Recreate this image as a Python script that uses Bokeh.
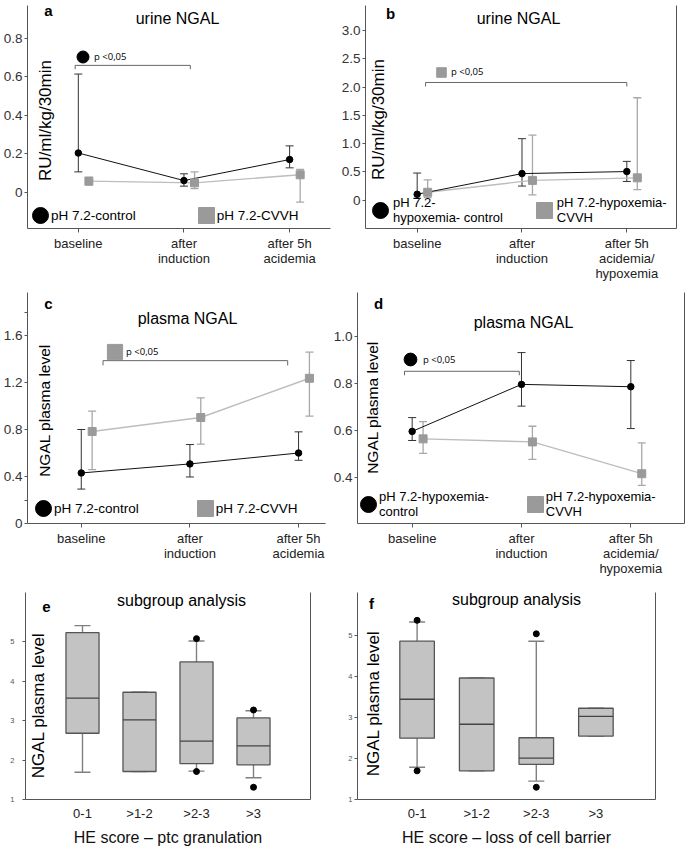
import math
from bokeh.plotting import figure
from bokeh.models import (ColumnDataSource, Whisker, TeeHead, Label, Legend, LegendItem,
                          FixedTicker, LinearAxis, Range1d)
from bokeh.layouts import column, row
from bokeh.embed import file_html
from bokeh.resources import INLINE
from bokeh.core.properties import value

# ---------------- data ----------------
ticks_ac = ["baseline", "after\ninduction", "after 5h\nacidemia"]
ticks_bd = ["baseline", "after\ninduction", "after 5h\nacidemia/\nhypoxemia"]

# a: urine NGAL, pH 7.2
a_ctrl = [0.205, 0.062, 0.171]
a_ctrl_lo = [0.107, 0.033, 0.128]
a_ctrl_hi = [0.615, 0.097, 0.242]
a_cvvh = [0.059, 0.050, 0.092]
a_cvvh_lo = [0.040, 0.020, -0.050]
a_cvvh_hi = [0.078, 0.107, 0.120]
a_yticks = [0, 0.2, 0.4, 0.6, 0.8]
a_ylabels = ["0", "0.2", "0.4", "0.6", "0.8"]

# b: urine NGAL, pH 7.2 + hypoxemia
b_ctrl = [0.105, 0.47, 0.506]
b_ctrl_lo = [0.035, 0.25, 0.331]
b_ctrl_hi = [0.48, 1.087, 0.686]
b_cvvh = [0.14, 0.35, 0.395]
b_cvvh_lo = [0.047, 0.093, 0.186]
b_cvvh_hi = [0.36, 1.15, 1.81]
b_yticks = [0, 0.5, 1.0, 1.5, 2.0, 2.5, 3.0]
b_ylabels = ["0", "0.5", "1.0", "1.5", "2.0", "2.5", "3.0"]

# c: plasma NGAL, pH 7.2
c_ctrl = [0.43, 0.507, 0.60]
c_ctrl_lo = [0.293, 0.396, 0.538]
c_ctrl_hi = [0.80, 0.672, 0.78]
c_cvvh = [0.783, 0.902, 1.236]
c_cvvh_lo = [0.458, 0.675, 0.914]
c_cvvh_hi = [0.957, 1.07, 1.458]
c_yticks = [0, 0.4, 0.8, 1.2, 1.6]
c_ylabels = ["0", "0.4", "0.8", "1.2", "1.6"]
c_yminor = [0.2, 1.8]

# d: plasma NGAL, pH 7.2 + hypoxemia
d_ctrl = [0.596, 0.797, 0.787]
d_ctrl_lo = [0.557, 0.704, 0.608]
d_ctrl_hi = [0.655, 0.933, 0.899]
d_cvvh = [0.564, 0.551, 0.415]
d_cvvh_lo = [0.502, 0.476, 0.365]
d_cvvh_hi = [0.638, 0.618, 0.547]
d_yticks = [0.4, 0.6, 0.8, 1.0]
d_ylabels = ["0.4", "0.6", "0.8", "1.0"]

# e / f: subgroup box plots
he_cats = ["0-1", ">1-2", ">2-3", ">3"]
box_yticks = [1, 2, 3, 4, 5]
box_ylabels = ["1", "2", "3", "4", "5"]

e_q1 = [2.68, 1.71, 1.91, 1.88]
e_med = [3.57, 3.02, 2.48, 2.36]
e_q3 = [5.23, 3.72, 4.49, 3.07]
e_lo = [1.69, 1.71, 1.72, 1.55]
e_hi = [5.41, 3.72, 5.02, 3.25]
e_out_cat = [">2-3", ">2-3", ">3", ">3"]
e_out_val = [5.08, 1.71, 3.27, 1.31]

f_q1 = [2.50, 1.70, 1.86, 2.55]
f_med = [3.45, 2.84, 2.01, 3.03]
f_q3 = [4.87, 3.97, 2.51, 3.23]
f_lo = [1.79, 1.70, 1.45, 2.55]
f_hi = [5.34, 3.97, 4.87, 3.23]
f_out_cat = ["0-1", "0-1", ">2-3", ">2-3"]
f_out_val = [5.38, 1.70, 5.05, 1.30]

# ---------------- style ----------------
NAN = float("nan")
FONT = "Liberation Sans"
AXIS_COL = "#555555"
CTRL_ERR = "#333333"
CVVH_ERR = "#a8a8a8"
CVVH_LINE = "#bdbdbd"
CVVH_MARK = "#9a9a9a"
DODGE = 0.1
BOXW = 0.58


def px(v):
    return f"{v}px"


def base_fig(w, h, left, right, top, bottom, xr, yr):
    p = figure(width=w, height=h, x_range=Range1d(*xr), y_range=Range1d(*yr),
               output_backend="svg", toolbar_location=None,
               min_border_left=left, min_border_right=right,
               min_border_top=top, min_border_bottom=bottom)
    p.outline_line_color = None
    p.xgrid.visible = False
    p.ygrid.visible = False
    p.background_fill_color = "white"
    p.border_fill_color = "white"
    for ax in (p.xaxis[0], p.yaxis[0]):
        ax.axis_line_color = AXIS_COL
        ax.major_tick_line_color = AXIS_COL
        ax.minor_tick_line_color = None
        ax.major_tick_in = 0
        ax.major_tick_out = 3
        ax.major_label_text_font = FONT
    return p


def add_right_border(p):
    ax = LinearAxis(ticker=FixedTicker(ticks=[]), major_label_text_font_size="0px",
                    axis_line_color=AXIS_COL, major_tick_line_color=None,
                    minor_tick_line_color=None, major_tick_out=0, major_label_standoff=0)
    p.add_layout(ax, "right")


def add_text(p, x, y, text, size, bold=False, angle=0.0, align="center", font=FONT, color="black"):
    # x, y in px from the frame's bottom-left corner
    p.add_layout(Label(x=x, y=y, x_units="screen", y_units="screen", text=text,
                       text_font=font, text_font_size=px(size),
                       text_font_style="bold" if bold else "normal",
                       text_align=align, text_baseline="middle", angle=angle,
                       text_color=color))


def key(p, kind, color):
    # legend key only: NaN position draws nothing in the frame
    if kind == "circle":
        return p.ellipse(x=[NAN], y=[NAN], width=10, height=10, width_units="screen",
                         height_units="screen", fill_color=color, line_color=color)
    return p.rect(x=[NAN], y=[NAN], width=10, height=10, width_units="screen",
                  height_units="screen", fill_color=color, line_color=color)


def add_legend(p, entries, loc, glyph, standoff, spacing, size, font=FONT, lh=1.1):
    items = [LegendItem(label=value(lbl), renderers=[r]) for lbl, r in entries]
    lg = Legend(items=items, location=(int(round(loc[0])), int(round(loc[1]))),
                orientation="horizontal",
                glyph_width=int(round(glyph)), glyph_height=int(round(glyph)),
                label_standoff=int(round(standoff)),
                spacing=int(round(spacing)), padding=0, margin=0, border_line_color=None,
                background_fill_alpha=0, label_text_font=font, label_text_font_size=px(size),
                label_text_color="black", label_text_line_height=lh, label_height=10)
    p.add_layout(lg)


def ts_panel(g, xr, yr, yticks, ylabels, xlabels, ctrl, ctrl_lo, ctrl_hi, cvvh, cvvh_lo, cvvh_hi,
             title, letter, ylab, leg_labels, leg, sig, yminor=None, right=False):
    p = base_fig(*g, xr, yr)
    n = len(ctrl)
    xc = [i + 1 for i in range(n)]
    xv = [x + DODGE for x in xc]
    sc = ColumnDataSource(dict(x=xc, y=ctrl, lo=ctrl_lo, hi=ctrl_hi))
    sv = ColumnDataSource(dict(x=xv, y=cvvh, lo=cvvh_lo, hi=cvvh_hi))
    for src, col, w in ((sv, CVVH_ERR, 1.3), (sc, CTRL_ERR, 1.0)):
        p.add_layout(Whisker(source=src, base="x", upper="hi", lower="lo", level="underlay",
                             line_color=col, line_width=w,
                             upper_head=TeeHead(size=8, line_color=col, line_width=w),
                             lower_head=TeeHead(size=8, line_color=col, line_width=w)))
    p.line("x", "y", source=sv, line_color=CVVH_LINE, line_width=1.4)
    p.line("x", "y", source=sc, line_color="#111111", line_width=1.0)
    p.scatter("x", "y", source=sv, marker="square", size=8, fill_color=CVVH_MARK,
              line_color=CVVH_MARK)
    p.scatter("x", "y", source=sc, marker="circle", size=6.5, fill_color="black",
              line_color="black")

    # axes
    yax = p.yaxis[0]
    yax.ticker = FixedTicker(ticks=yticks, minor_ticks=yminor or [])
    if yminor:
        yax.minor_tick_line_color = AXIS_COL
        yax.minor_tick_in = 0
        yax.minor_tick_out = 3
    yax.major_label_overrides = {t: l for t, l in zip(yticks, ylabels)}
    yax.major_label_text_font_size = px(13.5)
    yax.major_label_text_color = "#333333"
    yax.major_label_standoff = 2
    xax = p.xaxis[0]
    xax.ticker = FixedTicker(ticks=xc)
    xax.major_label_overrides = {t: l for t, l in zip(xc, xlabels)}
    xax.major_label_text_font_size = px(13)
    xax.major_label_text_color = "#222222"
    xax.major_label_text_line_height = 1.0
    xax.major_label_standoff = 3
    xax.major_tick_out = 4
    if right:
        add_right_border(p)

    # texts
    add_text(p, *title[1], title[0], 16)
    add_text(p, *letter[1], letter[0], 15, bold=True)
    add_text(p, *ylab[1], ylab[0], ylab[2], angle=math.pi / 2)

    # significance bracket
    x0, x1, yb, drop = sig["bracket"]
    p.line(x=[x0, x0, x1, x1], y=[yb - drop, yb, yb, yb - drop], line_color="#666666",
           line_width=1.0)
    sm = key(p, sig["marker"], sig["color"])
    add_legend(p, [("p <0,05", sm)], sig["loc"], sig["glyph"], sig["standoff"], 0, 9.5,
               font="Open Sans")

    # group legend
    rc = key(p, "circle", "black")
    rv = key(p, "square", CVVH_MARK)
    add_legend(p, [(leg_labels[0], rc), (leg_labels[1], rv)], leg["loc"], 19.6,
               leg["standoff"], leg["spacing"], leg.get("size", 13.5), lh=1.0)
    return p


def box_panel(g, yr, q1, med, q3, lo, hi, out_cat, out_val, title, letter, ylab, xlab,
              ystandoff):
    p = base_fig(*g, (0, len(he_cats) + 1), yr)
    xs = [i + 1 for i in range(len(he_cats))]
    src = ColumnDataSource(dict(x=xs, q1=q1, med=med, q3=q3, lo=lo, hi=hi,
                                x0=[x - BOXW / 2 for x in xs], x1=[x + BOXW / 2 for x in xs]))
    wc = "#808080"
    p.add_layout(Whisker(source=src, base="x", upper="hi", lower="lo", level="underlay",
                         line_color=wc, line_width=1.4,
                         upper_head=TeeHead(size=16, line_color=wc, line_width=1.4),
                         lower_head=TeeHead(size=16, line_color=wc, line_width=1.4)))
    p.vbar(x="x", width=BOXW, top="q3", bottom="q1", source=src, fill_color="#c3c3c3",
           line_color="#555555", line_width=1.3)
    p.segment(x0="x0", y0="med", x1="x1", y1="med", source=src, line_color="#444444",
              line_width=1.3)
    pos = {c: i + 1 for i, c in enumerate(he_cats)}
    p.scatter(x=[pos[c] for c in out_cat], y=out_val, marker="circle", size=6,
              fill_color="black", line_color="black")

    yax = p.yaxis[0]
    yax.ticker = FixedTicker(ticks=box_yticks)
    yax.major_label_overrides = {t: l for t, l in zip(box_yticks, box_ylabels)}
    yax.major_label_text_font_size = px(7.5)
    yax.major_label_text_color = "#555555"
    yax.major_label_standoff = ystandoff
    yax.major_tick_out = 3
    xax = p.xaxis[0]
    xax.ticker = FixedTicker(ticks=xs)
    xax.major_label_overrides = {t: l for t, l in zip(xs, he_cats)}
    xax.major_label_text_font_size = px(13)
    xax.major_label_text_color = "#222222"
    xax.major_label_standoff = 6
    xax.major_tick_out = 0
    xax.major_tick_line_color = None
    xax.axis_label = xlab
    xax.axis_label_text_font = FONT
    xax.axis_label_text_font_size = px(16)
    xax.axis_label_text_font_style = "normal"
    xax.axis_label_text_color = "#111111"
    xax.axis_label_standoff = 5
    add_right_border(p)

    add_text(p, *title[1], title[0], 16)
    add_text(p, *letter[1], letter[0], 15, bold=True)
    add_text(p, *ylab[1], ylab[0], 17, angle=math.pi / 2)
    return p


# geometry tuples: (fig width, fig height, left, right, top, bottom) in px
pa = ts_panel((338, 288, 26, 8, 5, 60), (0.519, 3.387), (-0.187, 0.971), a_yticks, a_ylabels,
              ticks_ac, a_ctrl, a_ctrl_lo, a_ctrl_hi, a_cvvh, a_cvvh_lo, a_cvvh_hi,
              ("urine NGAL", (150, 210)), ("a", (21, 218)),
              ("RU/ml/kg/30min", (18, 108), 17),
              ("pH 7.2-control", "pH 7.2-CVVH"),
              dict(loc=(3, 3), standoff=1, spacing=60),
              dict(bracket=(0.97, 2.06, 0.66, 0.02), marker="circle", color="black",
                   loc=(48.5, 164.5), glyph=15, standoff=3.5))

pb = ts_panel((348, 288, 25, 10, 2, 60), (0.507, 3.474), (-0.50, 3.44), b_yticks, b_ylabels,
              ticks_bd, b_ctrl, b_ctrl_lo, b_ctrl_hi, b_cvvh, b_cvvh_lo, b_cvvh_hi,
              ("urine NGAL", (153, 210)), ("b", (25, 215)),
              ("RU/ml/kg/30min", (13, 109), 17),
              ("pH 7.2-\nhypoxemia- control", "pH 7.2-hypoxemia-\nCVVH"),
              dict(loc=(5, 3), standoff=3, spacing=31, size=13),
              dict(bracket=(1.08, 3.0, 2.08, 0.07), marker="square", color=CVVH_MARK,
                   loc=(70, 150.5), glyph=11.5, standoff=3.5),
              right=True)

pc = ts_panel((330, 295, 26, 5, 4, 60), (0.505, 3.248), (0, 1.966), c_yticks, c_ylabels,
              ticks_ac, c_ctrl, c_ctrl_lo, c_ctrl_hi, c_cvvh, c_cvvh_lo, c_cvvh_hi,
              ("plasma NGAL", (160, 205)), ("c", (21, 220)),
              ("NGAL plasma level", (17, 113), 15.5),
              ("pH 7.2-control", "pH 7.2-CVVH"),
              dict(loc=(6, 5), standoff=1, spacing=56),
              dict(bracket=(1.2, 2.9, 1.386, 0.04), marker="square", color=CVVH_MARK,
                   loc=(78.5, 162.5), glyph=19, standoff=1.5),
              yminor=c_yminor)

pd_ = ts_panel((356, 295, 25, 2, 0, 60), (0.5, 3.491), (0.202, 1.19), d_yticks, d_ylabels,
               ticks_bd, d_ctrl, d_ctrl_lo, d_ctrl_hi, d_cvvh, d_cvvh_lo, d_cvvh_hi,
               ("plasma NGAL", (166, 201)), ("d", (21, 220)),
               ("NGAL plasma level", (15, 116), 15.5),
               ("pH 7.2-hypoxemia-\ncontrol", "pH 7.2-hypoxemia-\nCVVH"),
               dict(loc=(1, 4), standoff=1, spacing=36, size=13),
               dict(bracket=(0.93, 1.98, 0.853, 0.017), marker="circle", color="black",
                    loc=(45, 156), glyph=16, standoff=5),
               right=True)

pe = box_panel((335, 266, 25, 25, 9, 50), (1, 6.25), e_q1, e_med, e_q3, e_lo, e_hi,
               e_out_cat, e_out_val, ("subgroup analysis", (156, 199)), ("e", (21, 193)),
               ("NGAL plasma level", (13, 94)), "HE score \u2013 ptc granulation", 8)

pf = box_panel((351, 266, 22, 31, 9, 50), (1, 6.06), f_q1, f_med, f_q3, f_lo, f_hi,
               f_out_cat, f_out_val, ("subgroup analysis", (159, 200)), ("f", (14, 196)),
               ("NGAL plasma level", (16, 96)), "HE score \u2013 loss of cell barrier", 2)

layout = column(row(pa, pb), row(pc, pd_), row(pe, pf))
open("out.html", "w").write(file_html(layout, INLINE))
